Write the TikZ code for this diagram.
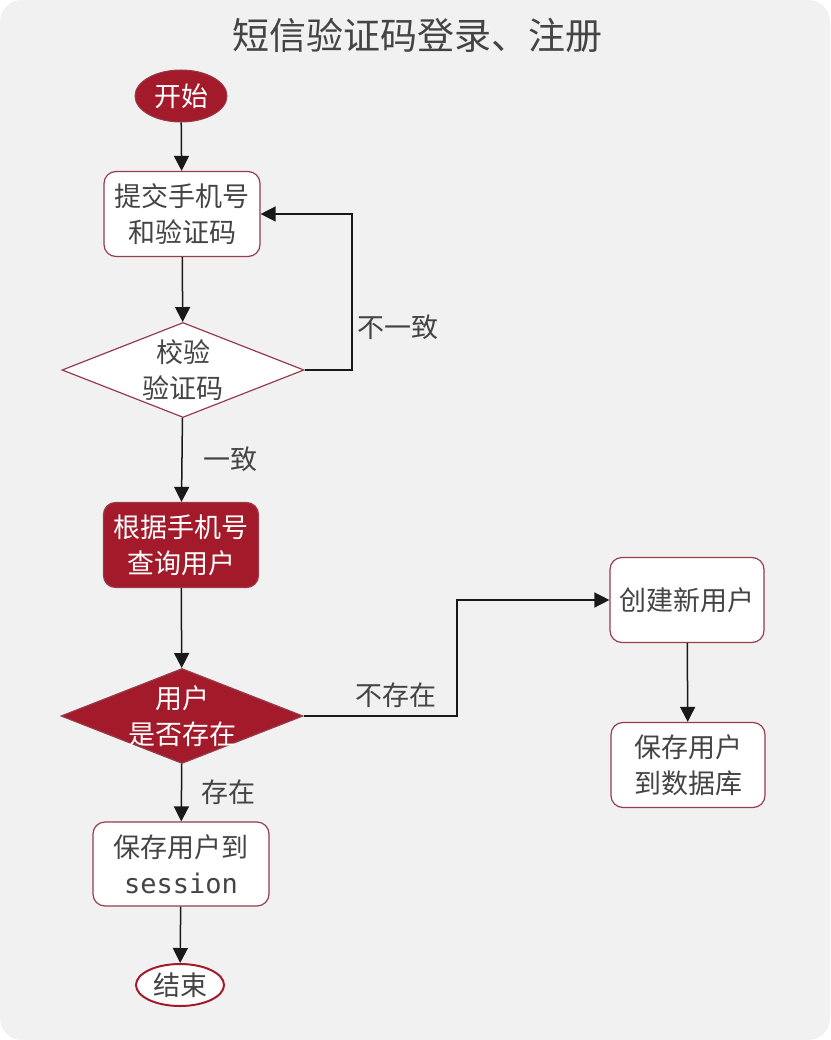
\documentclass[tikz,border=0pt]{standalone}
\usepackage{fontspec}
\newfontfamily\cjk{Noto Sans CJK SC}
\newfontfamily\monof{DejaVu Sans Mono}
\usetikzlibrary{shapes.geometric,arrows.meta}
\definecolor{dred}{RGB}{163,26,42}
\definecolor{bord}{RGB}{150,60,75}
\definecolor{txt}{RGB}{68,68,68}
\definecolor{bg}{RGB}{241,241,241}
\tikzset{
  base/.style={font=\cjk\fontsize{27}{36}\selectfont, align=center, inner sep=0pt},
  wbox/.style={base, draw=bord, line width=1.2pt, fill=white, rounded corners=12pt, text=txt},
  rbox/.style={base, draw=bord, line width=1.2pt, fill=dred, rounded corners=12pt, text=white},
  dia/.style={diamond, draw=bord, line width=1.2pt, inner sep=0pt, minimum width=242pt, minimum height=95pt},
  lbl/.style={font=\cjk\fontsize{27}{30}\selectfont, text=txt, inner sep=0pt},
  arr/.style={draw=black!90, line width=1.5pt, -{Triangle[length=15pt,width=15pt]}},
}
\begin{document}
\begin{tikzpicture}[x=1pt,y=-1pt]
\useasboundingbox (0,0) rectangle (830,1040);
\fill[white] (0,0) rectangle (830,1040);
\fill[bg, rounded corners=22pt] (0,0) rectangle (830,1040);
\node[font=\cjk\fontsize{37}{42}\selectfont, text=txt] (title) at (417,35) {短信验证码登录、注册};
% start
\node[ellipse, fill=dred, draw=bord, line width=1pt, minimum width=92pt, minimum height=52pt, inner sep=0pt, base, text=white] (start) at (181,96) {开始};
\node[wbox, minimum width=156pt, minimum height=85pt] (b1) at (182,214) {提交手机号\\和验证码};
\node[dia, fill=white] (d1) at (183,370) {};
\node[base, text=txt] (d1t) at (183,370) {校验\\验证码};
\node[rbox, minimum width=155pt, minimum height=85pt] (b2) at (181,545) {根据手机号\\查询用户};
\node[dia, fill=dred] (d2) at (182,716) {};
\node[base, text=white] (d2t) at (182,716) {用户\\是否存在};
\node[wbox, minimum width=154pt, minimum height=85pt] (b3) at (687,600) {创建新用户};
\node[wbox, minimum width=154pt, minimum height=85pt] (b4) at (688,765) {保存用户\\到数据库};
\node[wbox, minimum width=176pt, minimum height=84pt] (b5) at (181,864) {保存用户到\\{\monof\fontsize{27}{36}\selectfont session}};
\node[ellipse, fill=white, draw=dred, line width=2pt, minimum width=88pt, minimum height=42pt, inner sep=0pt, base, text=txt] (end) at (180,985) {结束};
% connectors
\draw[arr] (start) -- (b1);
\draw[arr] (b1) -- (d1);
\coordinate (c1) at (352,370);
\draw[arr] (d1.east) -- (c1) |- (b1.east);
\node[lbl] (l1) at (398,327) {不一致};
\draw[arr] (d1) -- (b2);
\node[lbl] (l2) at (230,459) {一致};
\draw[arr] (b2) -- (d2);
\coordinate (c2) at (457,716);
\draw[arr] (d2.east) -- (c2) |- (b3.west);
\node[lbl] (l3) at (396,695) {不存在};
\draw[arr] (b3) -- (b4);
\draw[arr] (d2) -- (b5);
\node[lbl] (l4) at (228,792) {存在};
\draw[arr] (b5) -- (end);
\end{tikzpicture}
\end{document}
